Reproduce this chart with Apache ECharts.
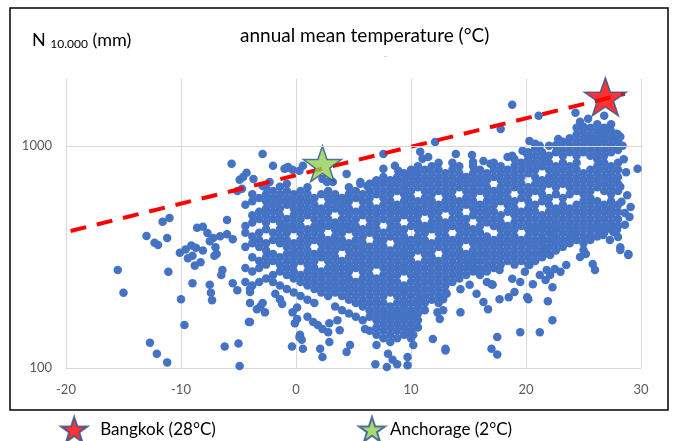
<!DOCTYPE html>
<html><head><meta charset="utf-8">
<script src="https://cdn.jsdelivr.net/npm/echarts@6/dist/echarts.min.js"></script>
<style>html,body{margin:0;padding:0;background:#fff;}#c{width:675px;height:441px;}</style>
</head><body><div id="c"></div>
<script>
// ---- axis ticks ----
const xTicks = [-20, -10, 0, 10, 20, 30];
const yTicks = [100, 1000];

// ---- dense core of the cloud: one temperature per column, precipitation values (mm) per column ----
const coreTemps = [-4.4,-3.8,-3.2,-2.6,-2.0,-1.4,-0.8,-0.2,0.4,1.0,1.6,2.2,2.8,3.4,4.0,4.6,5.2,5.8,6.4,7.0,7.6,8.2,8.8,9.4,10.0,10.6,11.2,11.8,12.4,13.0,13.6,14.2,14.8,15.4,16.0,16.6,17.2,17.8,18.4,19.0,19.6,20.2,20.8,21.4,22.0,22.6,23.2,23.8,24.4,25.0,25.6,26.2,26.8,27.4,28.0];
const coreMm = [
[543,436,406,351,282,244],
[605,563,487,452,391,364,315,272,235],
[583,505,469,406,377,351,303,282,244],
[651,605,563,523,487,452,421,364,338,315,292,253],
[627,583,543,505,469,406,377,326,303,262,244],
[605,563,523,487,452,421,391,364,315,292,272,235],
[675,627,583,543,469,436,406,377,351,326,303,282,262,227],
[605,563,523,487,452,421,364,338,315,292,272,253,219],
[627,583,543,505,469,436,406,377,351,326,303,262,244,211],
[651,605,563,523,487,421,391,364,338,315,292,272,253,235,203],
[583,543,505,469,436,406,377,326,303,282,262,244,227,196],
[605,523,487,452,421,391,364,338,315,272,253,235,219],
[627,583,543,505,469,436,377,351,326,303,282,262,244,227,211],
[605,563,523,452,421,391,364,338,315,292,272,253,235,219,189],
[583,543,505,469,436,406,377,351,303,282,262,244,227,211,182],
[651,605,563,523,487,452,421,364,338,315,292,272,253,235,219,203,176],
[627,583,505,469,436,406,377,351,326,303,282,244,227,211,196,170],
[605,563,523,487,421,391,364,338,315,292,272,253,235,219,203,189,164],
[675,627,583,543,505,469,436,406,351,326,303,282,262,244,227,211,196,182,170,147],
[700,651,605,523,487,452,421,391,364,338,315,292,253,235,219,203,189,176,164,152,141],
[725,675,627,583,543,505,469,406,377,351,326,303,282,262,244,227,211,196,182,170,158,147,136],
[700,651,605,563,523,487,452,421,391,338,315,292,272,253,235,219,189,176,164,152,141,131],
[725,675,627,543,505,469,436,406,377,351,326,303,282,262,244,227,211,196,182,170,158,147,136],
[752,700,651,605,563,523,487,421,391,364,338,315,292,272,235,219,203,189,176,164,152,141],
[780,725,675,627,583,543,505,469,436,377,351,326,303,282,262,244,227,211,196,182,170,158,147,136],
[809,752,700,651,563,523,487,452,421,391,364,338,292,272,253,235,219,203,189,176,164,152],
[780,725,675,627,583,543,505,436,406,377,351,326,303,282,262,244,227,211,196,182],
[809,752,700,651,605,563,523,487,452,421,364,338,315,292,272,253,235,219,203],
[839,780,725,675,627,543,505,469,436,406,377,351,303,282,262,244,227,211,196],
[752,700,651,605,563,523,452,421,391,364,338,315,292,272,253,235,219],
[839,780,725,675,627,583,543,505,469,436,377,351,326,303,282,262,244],
[809,752,700,651,563,523,487,452,421,391,364,338,315,292,272,253],
[725,675,627,583,543,469,436,406,377,326,303,282,262],
[809,752,700,651,605,563,523,487,421,391,364,338,315,292,272],
[780,725,675,627,543,505,469,436,406,377,351,326,303,282,262],
[752,700,651,605,563,523,487,452,391,364,338,315,292,272],
[839,780,725,627,583,543,505,469,436,377,351,326,303,282],
[809,752,700,651,605,563,487,452,421,391,364,338,315,292],
[780,725,675,627,583,543,505,436,406,377,351,326,303],
[870,809,752,700,651,563,523,487,452,421,391,364,338,315,292],
[839,780,725,675,627,583,505,469,436,377,351,326,303],
[936,870,809,752,651,605,563,523,487,452,421,391,364,338,315,292],
[970,902,839,780,725,675,627,543,505,469,436,406,377,351,326,303],
[936,870,809,700,651,605,563,487,452,421,391,364,338,315],
[1000,902,839,780,725,675,583,543,505,469,436,406,377,351,326],
[1006,936,809,752,700,651,605,523,487,452,421,391,364,338],
[1043,970,902,839,780,725,675,583,543,505,469,436,406,377,351],
[1082,1006,936,809,752,700,651,605,523,487,452,421,391,364],
[1206,1122,1043,970,902,839,780,725,675,627,543,505,469,436,406,377],
[1163,1082,1006,936,752,700,651,605,563,523,487,452,421,391,364],
[1206,1122,1043,970,902,780,725,675,627,583,543,505,469,436,406,377],
[1251,1163,1082,1006,936,870,809,752,700,651,563,523,487,452,421,391],
[1206,1122,1043,970,902,839,780,725,675,627,543,505,469,436,406],
[1251,1163,1082,1006,936,809,752,700,651,605,563,523,487,452,421],
[1122,1043,970,839,780,725,675,627,543,505,469,436]
];

// ---- scattered stations outside the core: [temperature °C, precipitation mm] ----
const outlierPoints = [
[-15.5,276],[-15.0,218],[-12.7,130],[-12.1,116],[-11.2,106],[-13.0,393],[-12.3,366],[-12.0,358],[-11.2,385],[-11.6,455],[-11.0,473],[-11.1,271],[-10.0,204],[-9.7,156],[-9.0,241],
[-10.1,330],[-9.6,342],[-9.1,356],[-8.7,348],[-9.0,320],[-9.4,312],[-8.8,289],[-8.3,299],[-8.1,338],
[-8.6,428],[-8.1,432],[-7.7,405],[-7.2,385],[-6.6,392],[-6.0,400],[-5.5,380],[-7.0,350],[-7.5,372],[-6.9,326],[-7.1,320],[-6.0,464],[-6.4,276],[-6.5,262],
[-7.5,237],[-7.4,218],[-7.3,202],[-6.2,125],[-5.0,129],[-4.9,102],[-5.6,830],[-5.5,241],[-5.1,224],
[-4.9,703],[-4.6,725],[-4.3,756],[-5.1,626],[-4.7,641],[-4.1,161],[-4.0,196],[-3.1,189],[-2.9,196],[-4.0,220],[-3.4,184],[-4.0,227],[-2.7,178],[-4.0,161],
[-2.9,920],[-2.0,813],[-1.0,788],[-0.7,804],[-0.8,796],[-0.3,780],[0.6,813],[0.3,772],[-1.4,654],[-2.3,688],[-2.9,660],[-3.7,710],
[-1.8,216],[-1.4,204],[-1.2,194],[-0.3,178],[0.1,166],[-0.1,159],[0.35,141],[0.5,134],[-0.35,125],[0.6,122],[0.3,138],[0.1,187],
[1.0,170],[1.5,161],[1.9,156],[2.3,150],[2.8,145],[2.1,122],[2.3,112],[2.9,131],[2.9,159],[3.6,164],[3.8,148],[4.4,118],[4.7,127],
[2.3,710],[2.7,688],[3.2,688],[4.4,748],[5.6,675],[5.6,688],[6.2,660],[6.9,688],[7.6,920],[7.6,788],[8.6,813],[8.9,772],[9.7,733],[10.2,772],[10.8,940],[11.0,874],[11.5,892],[12.1,1042],
[6.0,150],[7.0,127],[6.9,104],[7.9,101],[8.4,109],[8.8,104],[9.7,112],[9.7,103],[8.0,116],[10.2,141],[10.2,127],[9.9,145],[11.9,135],[13.0,122],[11.0,204],[12.3,178],[12.5,166],[12.8,204],[12.7,208],[13.1,216],[12.8,182],
[13.9,920],[15.3,910],[15.4,846],[16.3,855],[16.9,830],[18.4,892],[18.8,902],[19.7,950],[20.1,920],
[18.8,1530],[17.8,1190],[21.1,1365],[24.3,1408],[24.7,1283],[25.0,1218],[25.4,1324],[26.8,1365],[26.9,1169],[27.0,1193],[27.9,1133],[28.0,1075],[29.7,788],
[20.3,1053],[20.8,1021],[21.2,1000],[22.8,1075],[23.1,1042],[25.3,1075],[25.8,1053],[26.2,1086],
[28.0,959],[28.2,1098],[28.2,654],[28.3,560],[28.6,499],[29.0,479],[28.0,389],[27.6,419],[28.9,323],[28.2,340],
[28.7,760],[28.8,600],[29.1,530],[28.5,870],[28.4,1000],
[14.3,178],[13.0,120],[17.5,138],[17.0,122],[17.5,115],[19.5,145],[21.2,145],[22.3,164],[21.9,200],[20.2,204],[20.1,208],[20.6,238],
[16.7,184],[16.3,198],[17.7,204],[18.5,208],[19.0,220],[15.7,216],[15.1,237],[14.3,226],[17.0,238],[18.8,252],[19.5,244],[16.6,244],[17.1,237],[16.0,279],[15.4,305],[15.3,287],
[17.7,276],[19.9,271],[20.3,291],[21.7,249],[22.1,262],[22.5,279],[23.0,271],[23.5,291],[22.3,231],[21.8,276],[21.2,262],
[21.8,343],[22.1,323],[22.3,397],[22.3,382],[24.1,397],[24.7,316],[25.0,340],[25.2,326],[25.8,294],[26.0,276],[25.6,389],
[26.7,397],[27.6,410],[27.3,377],[28.2,350],[28.9,326],[26.2,423],[26.3,432],[28.6,441],[27.9,419]
];

// ---- highlighted cities and the dashed upper envelope ----
const cityNames = ['Bangkok (28°C)', 'Anchorage (2°C)'];
const bangkok = [26.9, 1663];
const anchorage = [2.3, 830];
const trendTemps = [-19.6, 28.6];
const trendMm = [414, 1715];

const FONT = 'Lato, "Open Sans", sans-serif';
const STAR = 'path://M50,0L61.8,35.4L99,35.4L69,57.3L80.4,92.7L50,70.8L19.6,92.7L31,57.3L1,35.4L38.2,35.4Z';

const stationData = [];
coreTemps.forEach((t, i) => coreMm[i].forEach(v => stationData.push([t, v])));
outlierPoints.forEach(p => stationData.push(p));

const chart = echarts.init(document.getElementById('c'), null, {renderer: 'canvas'});
chart.setOption({
  animation: false,
  backgroundColor: '#fff',
  grid: {left: 66, right: 34, top: 79, bottom: 73},
  xAxis: {
    type: 'value', min: xTicks[0], max: xTicks[xTicks.length - 1], interval: 10,
    axisLine: {show: true, lineStyle: {color: '#D9D9D9', width: 1}},
    axisTick: {show: false},
    axisLabel: {color: '#595959', fontSize: 13, fontFamily: FONT, margin: 15},
    splitLine: {show: true, lineStyle: {color: '#D9D9D9', width: 1}}
  },
  yAxis: {
    type: 'log', logBase: 10, min: yTicks[0], max: 2000,
    axisLine: {show: false}, axisTick: {show: false},
    splitLine: {show: false},
    axisLabel: {
      color: '#595959', fontSize: 13, fontFamily: FONT, margin: 14,
      formatter: v => { const r = Math.round(v); return yTicks.indexOf(r) >= 0 ? String(r) : ''; }
    }
  },
  legend: [
    {data: [{name: cityNames[0], icon: STAR}], left: 55, top: 411, itemWidth: 28, itemHeight: 25, itemGap: 0,
     selectedMode: false, textStyle: {fontSize: 17, color: '#000', fontFamily: FONT, padding: [0,0,0,7]}},
    {data: [{name: cityNames[1], icon: STAR}], left: 353, top: 411, itemWidth: 26, itemHeight: 25, itemGap: 0,
     selectedMode: false, textStyle: {fontSize: 17, color: '#000', fontFamily: FONT}}
  ],
  series: [
    {
      type: 'line', data: [], silent: true, z: 1,
      markLine: {
        silent: true, symbol: 'none', label: {show: false},
        lineStyle: {color: '#D9D9D9', type: 'solid', width: 1},
        data: [{yAxis: yTicks[1]}]
      }
    },
    {
      name: 'stations', type: 'scatter', data: stationData, symbolSize: 8.5, silent: true, z: 2,
      itemStyle: {color: '#4472C4', opacity: 1}
    },
    {
      name: 'trend', type: 'line', data: [[trendTemps[0], trendMm[0]], [trendTemps[1], trendMm[1]]],
      symbol: 'none', silent: true, z: 3,
      lineStyle: {color: '#FF0000', width: 4, type: [16, 11]}
    },
    {
      name: cityNames[0], type: 'scatter', data: [bangkok], symbol: STAR, symbolSize: [42, 38], z: 4,
      itemStyle: {color: '#FF0000', borderColor: '#2F528F', borderWidth: 1.5}
    },
    {
      name: cityNames[1], type: 'scatter', data: [anchorage], symbol: STAR, symbolSize: [38, 36], z: 4,
      itemStyle: {color: '#92D050', borderColor: '#2F528F', borderWidth: 1.5}
    }
  ],
  graphic: [
    {type: 'rect', shape: {x: 10, y: 8, width: 658, height: 402}, style: {fill: 'none', stroke: '#000', lineWidth: 1.5}, z: 100},
    {type: 'text', x: 240, y: 36, style: {text: 'annual mean temperature (°C)', font: '19px ' + FONT, fill: '#000', verticalAlign: 'middle'}},
    {type: 'text', x: 384, y: 56, style: {text: '-', font: '8px ' + FONT, fill: '#999', verticalAlign: 'middle'}},
    {type: 'text', x: 32, y: 40, style: {
      text: '{a|N }{b|10.000}{a| (mm)}', verticalAlign: 'middle',
      rich: {a: {fontSize: 18, fontFamily: FONT, color: '#000'},
             b: {fontSize: 12, fontFamily: FONT, color: '#000', padding: [9, 0, 0, 0]}}
    }}
  ]
});
</script>
</body></html>
